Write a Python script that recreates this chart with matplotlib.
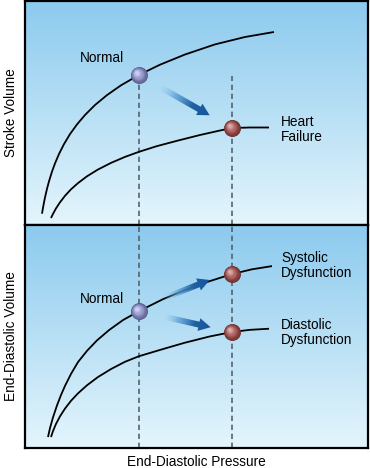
import numpy as np
import matplotlib.pyplot as plt
from matplotlib.patches import FancyArrow
from matplotlib.colors import to_rgb, LinearSegmentedColormap

plt.rcParams['font.family'] = ['Liberation Sans', 'DejaVu Sans']

# ---- curve points (pressure vs volume, arbitrary units) ----
# top panel: stroke volume
sv_normal_x = [17, 18, 19, 20, 22, 24, 27, 30, 34, 39, 45, 52, 60, 70, 82, 96, 114, 135, 160, 190, 220, 249]
sv_normal_y = [11.3, 17.2, 22.6, 27.5, 36.2, 43.7, 53.4, 61.6, 71.0, 80.9, 90.9, 100.6, 110.0, 120.0,
               129.9, 139.7, 150.1, 160.3, 170.5, 180.6, 188.0, 193.0]
sv_hf_x = [26, 28, 31, 35, 40, 46, 53, 62, 73, 86, 100, 114, 132, 152, 175, 195, 207, 225, 244]
sv_hf_y = [7.0, 11.1, 16.6, 22.7, 29.2, 35.7, 41.9, 48.7, 55.5, 62.1, 68.1, 73.2, 78.9, 84.2, 90.0,
           94.5, 97.0, 97.5, 97.5]

# bottom panel: end-diastolic volume
edv_normal_x = [23, 25, 28, 32, 36, 40, 46, 53, 62, 72, 84, 98, 114, 138, 160, 185, 207, 227, 247]
edv_normal_y = [11.0, 20.0, 30.8, 42.8, 53.2, 62.4, 74.4, 86.3, 97.6, 108.1, 118.4, 128.5, 137.5,
                149.5, 158.7, 167.7, 174.7, 179.5, 182.7]
edv_dia_x = [26, 28, 31, 35, 40, 46, 53, 62, 73, 86, 100, 114, 138, 160, 185, 207, 225, 244]
edv_dia_y = [11.0, 17.0, 24.2, 31.8, 39.6, 47.4, 54.9, 63.0, 71.3, 79.3, 86.6, 92.2, 99.4, 105.8,
             112.1, 116.5, 118.7, 119.8]

# operating points (pressure, volume)
sv_pts = {'normal': (114, 150), 'hf': (207, 97)}
edv_pts = {'normal': (114, 137.5), 'sys': (207, 174.7), 'dia': (207, 116.5)}

BLUE_BALL = '#9499dc'
RED_BALL = '#b25050'
FS = 9.8


def gradient_bg(ax):
    top = np.array(to_rgb('#8ccaee'))
    bot = np.array(to_rgb('#e4f5fc'))
    t = np.linspace(0, 1, 256)[:, None, None]
    img = bot + (top - bot) * t
    ax.imshow(img, extent=[0, 343, 0, 224], origin='lower', aspect='auto', zorder=0)


def ball(ax, x, y, col):
    base = np.array(to_rgb(col))
    dark = base * 0.6
    light = np.array([1.0, 1.0, 1.0]) * 0.55 + base * 0.45
    n = 14
    for i in range(n):
        t = i / (n - 1)
        r = 1 - 0.85 * t
        c = dark * (1 - t) ** 2 + base * 2 * t * (1 - t) + light * t ** 2
        c = np.clip(c, 0, 1)
        ax.scatter([x - 2.6 * t], [y + 2.6 * t], s=(12.2 * r) ** 2, color=c,
                   linewidths=0, zorder=6 + i * 0.01)


def grad_arrow(ax, p0, p1, frac0, frac1, lift=0.0):
    p0 = np.array(p0, float)
    p1 = np.array(p1, float)
    d = p1 - p0
    a = p0 + frac0 * d + np.array([0, lift])
    b = p0 + frac1 * d + np.array([0, lift])
    arr = FancyArrow(a[0], a[1], b[0] - a[0], b[1] - a[1], width=6, head_width=13,
                     head_length=12, length_includes_head=True,
                     facecolor='none', edgecolor='none', transform=ax.transData)
    ax.add_patch(arr)
    xs = np.linspace(0, 343, 500)
    ys = np.linspace(0, 224, 330)
    X, Y = np.meshgrid(xs, ys)
    v = b - a
    t = ((X - a[0]) * v[0] + (Y - a[1]) * v[1]) / (v @ v)
    t = np.clip(t, 0, 1)
    cmap = LinearSegmentedColormap.from_list(
        'arr', [(0.66, 0.85, 0.95, 0.0), (0.35, 0.62, 0.84, 0.75),
                (0.12, 0.38, 0.64, 1.0), (0.09, 0.33, 0.60, 1.0)])
    im = ax.imshow(cmap(t), extent=[0, 343, 0, 224], origin='lower', aspect='auto', zorder=4)
    im.set_clip_path(arr)


def setup(ax, ylabel):
    gradient_bg(ax)
    ax.set_xlim(0, 343)
    ax.set_ylim(0, 224)
    ax.set_xticks([])
    ax.set_yticks([])
    for s in ax.spines.values():
        s.set_linewidth(1.6)
        s.set_color('black')
        s.set_zorder(10)
    ax.set_ylabel(ylabel, fontsize=FS, labelpad=5)


fig = plt.figure(figsize=(3.7, 4.68), dpi=100)
ax1 = fig.add_axes([25 / 370, 243 / 468, 343 / 370, 224 / 468])
ax2 = fig.add_axes([25 / 370, 20 / 468, 343 / 370, 223 / 468])

dash = dict(color='#56636e', lw=1.2, linestyle=(0, (3.2, 2.2)), zorder=2)
curve = dict(color='black', lw=1.3, zorder=3, solid_capstyle='butt')

# ---- top panel ----
setup(ax1, 'Stroke Volume')
ax1.plot([sv_pts['normal'][0]] * 2, [0, sv_pts['normal'][1]], **dash)
ax1.plot([sv_pts['hf'][0]] * 2, [0, 149], **dash)
ax1.plot(sv_normal_x, sv_normal_y, **curve)
ax1.plot(sv_hf_x, sv_hf_y, **curve)
grad_arrow(ax1, sv_pts['normal'], sv_pts['hf'], 0.2, 0.76)
ball(ax1, *sv_pts['normal'], BLUE_BALL)
ball(ax1, *sv_pts['hf'], RED_BALL)
ax1.text(77, 167, 'Normal', fontsize=FS, ha='center', va='center')
ax1.text(256, 95.5, 'Heart\nFailure', fontsize=FS, ha='left', va='center', linespacing=1.1)

# ---- bottom panel ----
setup(ax2, 'End-Diastolic Volume')
for xv in (edv_pts['normal'][0], edv_pts['sys'][0]):
    ax2.plot([xv, xv], [0, 224], **dash)
ax2.plot(edv_normal_x, edv_normal_y, **curve)
ax2.plot(edv_dia_x, edv_dia_y, **curve)
grad_arrow(ax2, edv_pts['normal'], edv_pts['sys'], 0.26, 0.76, lift=3)
grad_arrow(ax2, edv_pts['normal'], edv_pts['dia'], 0.25, 0.77)
ball(ax2, *edv_pts['normal'], BLUE_BALL)
ball(ax2, *edv_pts['sys'], RED_BALL)
ball(ax2, *edv_pts['dia'], RED_BALL)
ax2.text(77, 150, 'Normal', fontsize=FS, ha='center', va='center')
ax2.text(256, 183, 'Systolic\nDysfunction', fontsize=FS, ha='left', va='center', linespacing=1.1)
ax2.text(256, 116, 'Diastolic\nDysfunction', fontsize=FS, ha='left', va='center', linespacing=1.1)
fig.text(196.5 / 370, 6 / 468, 'End-Diastolic Pressure', fontsize=FS, ha='center', va='center')

fig.savefig('out.png', dpi=100)
